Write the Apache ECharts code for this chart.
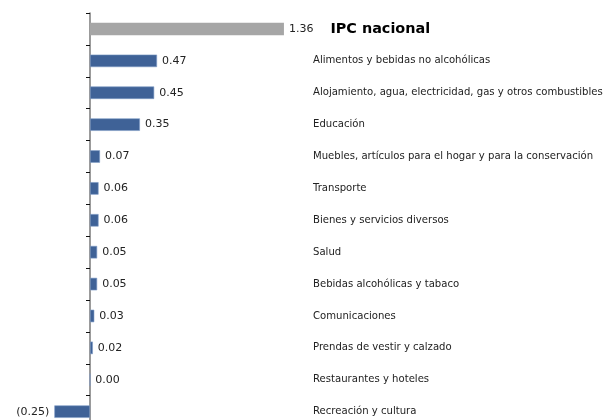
<!DOCTYPE html>
<html>
<head>
<meta charset="utf-8">
<script src="https://cdn.jsdelivr.net/npm/echarts@6/dist/echarts.min.js"></script>
<style>
  html, body { margin: 0; padding: 0; background: #fff; }
  #chart { width: 605px; height: 420px; }
</style>
</head>
<body>
<div id="chart"></div>
<script>
// categorias, de arriba hacia abajo
let categories = [
  "IPC nacional",
  "Alimentos y bebidas no alcohólicas",
  "Alojamiento, agua, electricidad, gas y otros combustibles",
  "Educación",
  "Muebles, artículos para el hogar y para la conservación",
  "Transporte",
  "Bienes y servicios diversos",
  "Salud",
  "Bebidas alcohólicas y tabaco",
  "Comunicaciones",
  "Prendas de vestir y calzado",
  "Restaurantes y hoteles",
  "Recreación y cultura",
];
let values = [1.36, 0.47, 0.45, 0.35, 0.07, 0.06, 0.06, 0.05, 0.05, 0.03, 0.02, 0.0, -0.25];

let blue = "#3f6297";
let grey = "#a6a6a6";
let font = "DejaVu Sans";

let fmt = function (v) {
  if (v < 0) return "(" + Math.abs(v).toFixed(2) + ")";
  return v.toFixed(2);
};

let barData = values.map(function (v, i) {
  let item = {
    value: v,
    itemStyle: { color: i == 0 ? grey : blue, borderColor: i == 0 ? grey : "#7f9cc6", borderWidth: i == 0 ? 0 : 0.6 },
  };
  if (v < 0) item.label = { position: "left" };
  return item;
});

var myChart = echarts.init(document.getElementById("chart"));

// el grid sigue por debajo del borde (la ultima banda queda cortada)
var option = {
  animation: false,
  grid: { left: 18.7, top: 13, width: 570.4, height: 414.6, outerBoundsMode: "none", containLabel: false },
  xAxis: {
    type: "value",
    min: -0.5,
    max: 3.5,
    show: false,
  },
  yAxis: {
    type: "category",
    inverse: true,
    data: categories,
    axisLine: { show: true, onZero: true, lineStyle: { color: "#7a7a7a", width: 1.5 } },
    axisTick: { show: true, length: 4, lineStyle: { color: "#111" } },
    axisLabel: {
      align: "left",
      margin: -294.3,
      fontFamily: font,
      fontSize: 10.1,
      color: "#222",
      formatter: function (v, i) {
        return i == 0 ? "" : v;
      },
    },
  },
  series: [
    {
      type: "bar",
      barWidth: 12.5,
      data: barData,
      label: {
        show: true,
        position: "right",
        distance: 5,
        fontFamily: font,
        fontSize: 11,
        color: "#222",
        formatter: function (p) {
          if (p.dataIndex == 0) return "{v|" + fmt(p.value) + "}{b|" + categories[0] + "}";
          return fmt(p.value);
        },
        rich: {
          v: { fontFamily: font, fontSize: 11, color: "#222" },
          b: { fontFamily: font, fontSize: 14.4, fontWeight: "bold", color: "#000", padding: [0, 0, 0, 17] },
        },
      },
    },
  ],
};

option && myChart.setOption(option);
</script>
</body>
</html>
